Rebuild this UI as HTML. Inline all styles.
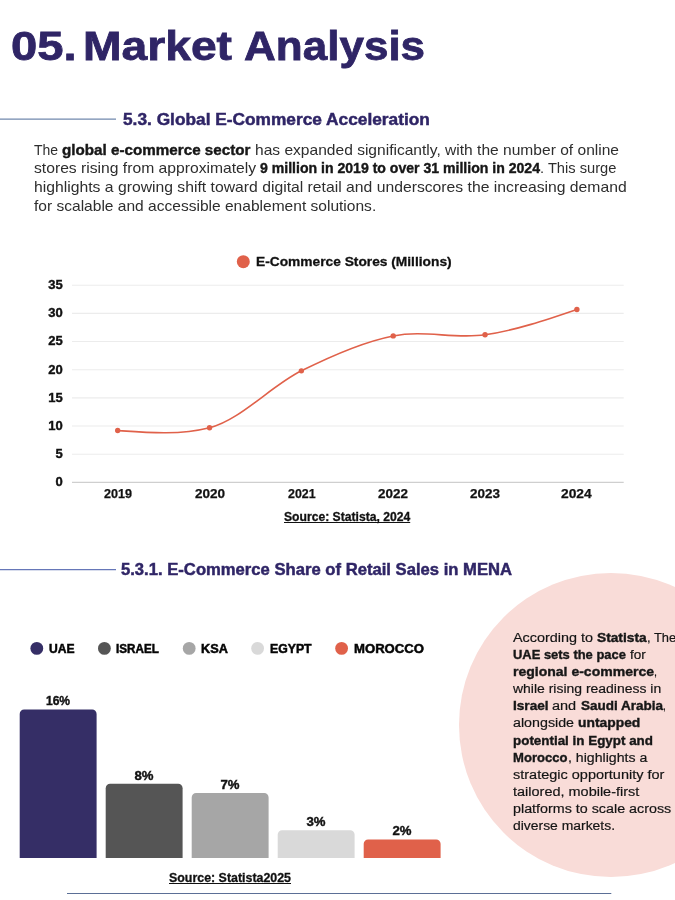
<!DOCTYPE html>
<html lang="en"><head><meta charset="utf-8"><title>05. Market Analysis</title>
<style>
html,body{margin:0;padding:0;background:#fff}
body{width:675px;height:900px;position:relative;overflow:hidden;font-family:"Liberation Sans", sans-serif}
.t{position:absolute;margin:0;white-space:pre;font-weight:400}
.t b{font-weight:700}
p.t b{color:#171717;-webkit-text-stroke:0.4px #171717}
.ln{left:0;width:675px}
.ln>*{position:absolute;top:0;transform-origin:0 50%;white-space:pre;display:block}
h1.t,h2.t{font-weight:700}
.ul span,.ul b{text-decoration:underline;text-decoration-thickness:1.2px;text-underline-offset:1px}
.lab{font-weight:700;color:#111;-webkit-text-stroke:0.4px #111}
.circle{position:absolute;left:459px;top:573px;width:303.5px;height:303.5px;border-radius:50%;background:#f9dcd8}
.chart{position:absolute;left:0;top:0}
</style></head><body>
<div class="circle"></div>
<svg class="chart" width="675" height="900" viewBox="0 0 675 900"><line x1="72" x2="623.7" y1="285.20" y2="285.20" stroke="#ececec" stroke-width="1.1"/><line x1="72" x2="623.7" y1="313.37" y2="313.37" stroke="#ececec" stroke-width="1.1"/><line x1="72" x2="623.7" y1="341.54" y2="341.54" stroke="#ececec" stroke-width="1.1"/><line x1="72" x2="623.7" y1="369.71" y2="369.71" stroke="#ececec" stroke-width="1.1"/><line x1="72" x2="623.7" y1="397.88" y2="397.88" stroke="#ececec" stroke-width="1.1"/><line x1="72" x2="623.7" y1="426.05" y2="426.05" stroke="#ececec" stroke-width="1.1"/><line x1="72" x2="623.7" y1="454.22" y2="454.22" stroke="#ececec" stroke-width="1.1"/><line x1="72" x2="623.7" y1="482.39" y2="482.39" stroke="#cfcfcf" stroke-width="1.1"/><path d="M117.70 430.56 C148.31 432.70 178.93 435.39 209.54 427.74 C240.15 420.09 270.77 386.14 301.38 370.84 C331.99 355.53 362.61 341.92 393.22 335.91 C423.83 329.90 454.45 339.19 485.06 334.78 C515.67 330.37 546.29 319.90 576.90 309.43" fill="none" stroke="#e0614a" stroke-width="1.6" stroke-linecap="round"/><circle cx="117.70" cy="430.56" r="2.7" fill="#e0614a"/><circle cx="209.54" cy="427.74" r="2.7" fill="#e0614a"/><circle cx="301.38" cy="370.84" r="2.7" fill="#e0614a"/><circle cx="393.22" cy="335.91" r="2.7" fill="#e0614a"/><circle cx="485.06" cy="334.78" r="2.7" fill="#e0614a"/><circle cx="576.90" cy="309.43" r="2.7" fill="#e0614a"/><circle cx="243.3" cy="261.7" r="6.5" fill="#e0614a"/><line x1="0" x2="116" y1="119.15" y2="119.15" stroke="#7088ad" stroke-width="1.4"/><line x1="0" x2="116" y1="569.7" y2="569.7" stroke="#6677b8" stroke-width="1.3"/><line x1="67" x2="611.3" y1="893.5" y2="893.5" stroke="#5b6f96" stroke-width="1.15"/><path d="M19.70 858.00V713.92a4.4 4.4 0 0 1 4.4 -4.4h68.10a4.4 4.4 0 0 1 4.4 4.4V858.00z" fill="#352e66"/><path d="M105.70 858.00V788.16a4.4 4.4 0 0 1 4.4 -4.4h68.10a4.4 4.4 0 0 1 4.4 4.4V858.00z" fill="#555555"/><path d="M191.70 858.00V797.44a4.4 4.4 0 0 1 4.4 -4.4h68.10a4.4 4.4 0 0 1 4.4 4.4V858.00z" fill="#a6a6a6"/><path d="M277.70 858.00V834.56a4.4 4.4 0 0 1 4.4 -4.4h68.10a4.4 4.4 0 0 1 4.4 4.4V858.00z" fill="#d9d9d9"/><path d="M363.70 858.00V843.84a4.4 4.4 0 0 1 4.4 -4.4h68.10a4.4 4.4 0 0 1 4.4 4.4V858.00z" fill="#e0614a"/><circle cx="36.8" cy="648.4" r="6.4" fill="#352e66"/><circle cx="104.4" cy="648.4" r="6.4" fill="#555555"/><circle cx="189.2" cy="648.4" r="6.4" fill="#a6a6a6"/><circle cx="257.6" cy="648.4" r="6.4" fill="#d9d9d9"/><circle cx="341.6" cy="648.4" r="6.4" fill="#e0614a"/></svg>
<h1 class="t ln" style="top:20.92px;font-size:41.5px;line-height:49.8px;height:49.8px;color:#2f2566;-webkit-text-stroke:0.8px #2f2566"><b style="left:10.8px;transform:scaleX(1.1371)">05. </b><b style="left:83.0px;transform:scaleX(1.1138)">Market </b><b style="left:244.2px;transform:scaleX(1.0609)">Analysis</b></h1>
<h2 class="t ln" style="top:110.47px;font-size:16.2px;line-height:19.44px;height:19.44px;color:#2f2566;-webkit-text-stroke:0.45px #2f2566"><b style="left:122.5px;transform:scaleX(1.0681)">5.3. Global E-Commerce Acceleration</b></h2>
<p class="t ln" style="top:141.59px;font-size:14.8px;line-height:17.76px;height:17.76px;color:#2e2e2e"><span style="left:34.3px;transform:scaleX(0.9457)">The </span><b style="left:62.3px;transform:scaleX(1.0277)">global e-commerce sector </b><span style="left:255.0px;transform:scaleX(1.0520)">has expanded significantly, with the number of online</span></p>
<p class="t ln" style="top:160.29px;font-size:14.8px;line-height:17.76px;height:17.76px;color:#2e2e2e"><span style="left:33.5px;transform:scaleX(1.0594)">stores rising from approximately </span><b style="left:260.0px;transform:scaleX(0.9511)">9 million in 2019 to over 31 million in 2024</b><span style="left:540.0px;transform:scaleX(0.9922)">. This surge</span></p>
<p class="t ln" style="top:178.99px;font-size:14.8px;line-height:17.76px;height:17.76px;color:#2e2e2e"><span style="left:34.0px;transform:scaleX(1.0628)">highlights a growing shift toward digital retail and underscores the increasing demand</span></p>
<p class="t ln" style="top:197.69px;font-size:14.8px;line-height:17.76px;height:17.76px;color:#2e2e2e"><span style="left:33.5px;transform:scaleX(1.0506)">for scalable and accessible enablement solutions.</span></p>
<div class="t ln" style="top:254.02px;font-size:13.4px;line-height:16.08px;height:16.08px;color:#111;-webkit-text-stroke:0.3px #111"><b style="left:255.9px;transform:scaleX(1.0269)">E-Commerce Stores (Millions)</b></div>
<div class="t ln ul" style="top:510.47px;font-size:12.6px;line-height:15.12px;height:15.12px;color:#111;-webkit-text-stroke:0.3px #111"><b style="left:283.8px;transform:scaleX(0.9641)">Source: Statista, 2024</b></div>
<h2 class="t ln" style="top:559.67px;font-size:16.2px;line-height:19.44px;height:19.44px;color:#2f2566;-webkit-text-stroke:0.45px #2f2566"><b style="left:120.5px;transform:scaleX(1.0275)">5.3.1. E-Commerce Share of Retail Sales in MENA</b></h2>
<div class="t ln" style="top:642.16px;font-size:12.3px;line-height:14.76px;height:14.76px;color:#050505;-webkit-text-stroke:0.5px #050505"><b style="left:49.2px;transform:scaleX(0.9860)">UAE</b></div>
<div class="t ln" style="top:642.16px;font-size:12.3px;line-height:14.76px;height:14.76px;color:#050505;-webkit-text-stroke:0.5px #050505"><b style="left:116.4px;transform:scaleX(0.9492)">ISRAEL</b></div>
<div class="t ln" style="top:642.16px;font-size:12.3px;line-height:14.76px;height:14.76px;color:#050505;-webkit-text-stroke:0.5px #050505"><b style="left:200.8px;transform:scaleX(1.0322)">KSA</b></div>
<div class="t ln" style="top:642.16px;font-size:12.3px;line-height:14.76px;height:14.76px;color:#050505;-webkit-text-stroke:0.5px #050505"><b style="left:270.0px;transform:scaleX(0.9980)">EGYPT</b></div>
<div class="t ln" style="top:642.16px;font-size:12.3px;line-height:14.76px;height:14.76px;color:#050505;-webkit-text-stroke:0.5px #050505"><b style="left:354.0px;transform:scaleX(1.0674)">MOROCCO</b></div>
<div class="t ln ul" style="top:870.87px;font-size:12.6px;line-height:15.12px;height:15.12px;color:#111;-webkit-text-stroke:0.3px #111"><b style="left:169.3px;transform:scaleX(0.9847)">Source: Statista2025</b></div>
<p class="t ln" style="top:629.73px;font-size:13.7px;line-height:16.44px;height:16.44px;color:#141414;-webkit-text-stroke:0.2px #141414"><span style="left:513.0px;transform:scaleX(1.0515)">According to </span><b style="left:597.0px;transform:scaleX(1.0032)">Statista</b><span style="left:646.6px;transform:scaleX(0.9426)">, The</span></p>
<p class="t ln" style="top:646.88px;font-size:13.7px;line-height:16.44px;height:16.44px;color:#141414;-webkit-text-stroke:0.2px #141414"><b style="left:513.0px;transform:scaleX(0.9454)">UAE sets the pace </b><span style="left:629.5px;transform:scaleX(0.9892)">for</span></p>
<p class="t ln" style="top:664.03px;font-size:13.7px;line-height:16.44px;height:16.44px;color:#141414;-webkit-text-stroke:0.2px #141414"><b style="left:513.0px;transform:scaleX(1.0240)">regional e-commerce</b><span style="left:654.0px;transform:scaleX(0.7889)">,</span></p>
<p class="t ln" style="top:681.18px;font-size:13.7px;line-height:16.44px;height:16.44px;color:#141414;-webkit-text-stroke:0.2px #141414"><span style="left:513.0px;transform:scaleX(1.0199)">while rising readiness in</span></p>
<p class="t ln" style="top:698.33px;font-size:13.7px;line-height:16.44px;height:16.44px;color:#141414;-webkit-text-stroke:0.2px #141414"><b style="left:513.0px;transform:scaleX(0.9957)">Israel </b><span style="left:552.4px;transform:scaleX(1.0586)">and </span><b style="left:580.6px;transform:scaleX(0.9872)">Saudi Arabia</b><span style="left:663.2px;transform:scaleX(0.7363)">,</span></p>
<p class="t ln" style="top:715.48px;font-size:13.7px;line-height:16.44px;height:16.44px;color:#141414;-webkit-text-stroke:0.2px #141414"><span style="left:513.0px;transform:scaleX(1.0416)">alongside </span><b style="left:578.0px;transform:scaleX(1.0116)">untapped</b></p>
<p class="t ln" style="top:732.63px;font-size:13.7px;line-height:16.44px;height:16.44px;color:#141414;-webkit-text-stroke:0.2px #141414"><b style="left:513.0px;transform:scaleX(0.9793)">potential in Egypt and</b></p>
<p class="t ln" style="top:749.78px;font-size:13.7px;line-height:16.44px;height:16.44px;color:#141414;-webkit-text-stroke:0.2px #141414"><b style="left:513.0px;transform:scaleX(0.9555)">Morocco</b><span style="left:567.5px;transform:scaleX(1.0319)">, highlights a</span></p>
<p class="t ln" style="top:766.93px;font-size:13.7px;line-height:16.44px;height:16.44px;color:#141414;-webkit-text-stroke:0.2px #141414"><span style="left:513.0px;transform:scaleX(1.0585)">strategic opportunity for</span></p>
<p class="t ln" style="top:784.08px;font-size:13.7px;line-height:16.44px;height:16.44px;color:#141414;-webkit-text-stroke:0.2px #141414"><span style="left:513.0px;transform:scaleX(1.0576)">tailored, mobile-first</span></p>
<p class="t ln" style="top:801.23px;font-size:13.7px;line-height:16.44px;height:16.44px;color:#141414;-webkit-text-stroke:0.2px #141414"><span style="left:513.0px;transform:scaleX(1.0451)">platforms to scale across</span></p>
<p class="t ln" style="top:818.38px;font-size:13.7px;line-height:16.44px;height:16.44px;color:#141414;-webkit-text-stroke:0.2px #141414"><span style="left:513.0px;transform:scaleX(1.0159)">diverse markets.</span></p>
<div class="t ln" style="top:486.57px;font-size:12.6px;line-height:15.12px;height:15.12px;color:#111;-webkit-text-stroke:0.25px #111"><b style="left:103.9px;transform:scaleX(0.9994)">2019</b></div>
<div class="t ln" style="top:486.57px;font-size:12.6px;line-height:15.12px;height:15.12px;color:#111;-webkit-text-stroke:0.25px #111"><b style="left:194.6px;transform:scaleX(1.0744)">2020</b></div>
<div class="t ln" style="top:486.57px;font-size:12.6px;line-height:15.12px;height:15.12px;color:#111;-webkit-text-stroke:0.25px #111"><b style="left:287.7px;transform:scaleX(0.9851)">2021</b></div>
<div class="t ln" style="top:486.57px;font-size:12.6px;line-height:15.12px;height:15.12px;color:#111;-webkit-text-stroke:0.25px #111"><b style="left:378.4px;transform:scaleX(1.0672)">2022</b></div>
<div class="t ln" style="top:486.57px;font-size:12.6px;line-height:15.12px;height:15.12px;color:#111;-webkit-text-stroke:0.25px #111"><b style="left:470.1px;transform:scaleX(1.0708)">2023</b></div>
<div class="t ln" style="top:486.57px;font-size:12.6px;line-height:15.12px;height:15.12px;color:#111;-webkit-text-stroke:0.25px #111"><b style="left:561.3px;transform:scaleX(1.0958)">2024</b></div>
<div class="t lab" style="left:2.8px;width:60px;text-align:right;top:277.10px;font-size:13px;line-height:15.6px">35</div>
<div class="t lab" style="left:2.8px;width:60px;text-align:right;top:305.27px;font-size:13px;line-height:15.6px">30</div>
<div class="t lab" style="left:2.8px;width:60px;text-align:right;top:333.44px;font-size:13px;line-height:15.6px">25</div>
<div class="t lab" style="left:2.8px;width:60px;text-align:right;top:361.61px;font-size:13px;line-height:15.6px">20</div>
<div class="t lab" style="left:2.8px;width:60px;text-align:right;top:389.78px;font-size:13px;line-height:15.6px">15</div>
<div class="t lab" style="left:2.8px;width:60px;text-align:right;top:417.95px;font-size:13px;line-height:15.6px">10</div>
<div class="t lab" style="left:2.8px;width:60px;text-align:right;top:446.12px;font-size:13px;line-height:15.6px">5</div>
<div class="t lab" style="left:2.8px;width:60px;text-align:right;top:474.29px;font-size:13px;line-height:15.6px">0</div>
<div class="t lab" style="left:18.2px;width:80px;text-align:center;transform:scaleX(0.99);top:694.27px;font-size:12.2px;line-height:14.64px">16%</div>
<div class="t lab" style="left:104.2px;width:80px;text-align:center;transform:scaleX(1.08);top:768.51px;font-size:12.2px;line-height:14.64px">8%</div>
<div class="t lab" style="left:190.1px;width:80px;text-align:center;transform:scaleX(1.08);top:777.79px;font-size:12.2px;line-height:14.64px">7%</div>
<div class="t lab" style="left:276.1px;width:80px;text-align:center;transform:scaleX(1.08);top:814.91px;font-size:12.2px;line-height:14.64px">3%</div>
<div class="t lab" style="left:362.1px;width:80px;text-align:center;transform:scaleX(1.08);top:824.19px;font-size:12.2px;line-height:14.64px">2%</div>
</body></html>
